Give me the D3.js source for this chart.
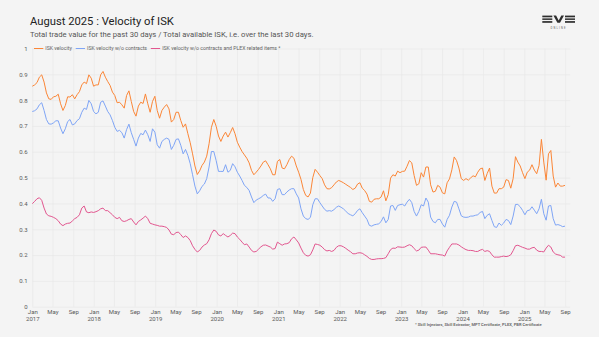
<!DOCTYPE html>
<html>
<head>
<meta charset="utf-8">
<script src="https://cdnjs.cloudflare.com/ajax/libs/d3/7.8.5/d3.min.js"></script>
<style>
html, body { margin: 0; padding: 0; background: #f4f4f4; }
svg { display: block; font-family: Roboto, "DejaVu Sans", sans-serif; }
</style>
</head>
<body>
<svg id="chart" width="599" height="337"></svg>
<script>
// one reading every 14 days, starting 2017-01-01
var startDate = "2017-01-01";
var stepDays = 14;

var iskVelocity = [
  0.854,0.859,0.868,0.889,0.898,0.870,0.828,0.805,0.803,0.813,
  0.815,0.823,0.786,0.760,0.779,0.813,0.812,0.821,0.805,0.821,
  0.833,0.859,0.870,0.864,0.898,0.885,0.854,0.859,0.859,0.898,
  0.911,0.889,0.872,0.857,0.831,0.818,0.790,0.792,0.782,0.769,
  0.818,0.836,0.795,0.756,0.738,0.777,0.792,0.787,0.824,0.786,
  0.753,0.795,0.815,0.760,0.730,0.760,0.773,0.783,0.766,0.715,
  0.725,0.753,0.753,0.721,0.695,0.708,0.670,0.635,0.592,0.545,
  0.512,0.526,0.547,0.560,0.583,0.631,0.695,0.725,0.699,0.661,
  0.640,0.661,0.676,0.657,0.674,0.694,0.670,0.637,0.618,0.601,
  0.588,0.575,0.557,0.528,0.511,0.521,0.532,0.545,0.560,0.565,
  0.550,0.534,0.511,0.511,0.563,0.570,0.537,0.534,0.550,0.570,
  0.583,0.575,0.545,0.521,0.493,0.454,0.431,0.425,0.440,0.500,
  0.532,0.521,0.508,0.496,0.472,0.457,0.456,0.461,0.472,0.483,
  0.489,0.485,0.480,0.474,0.468,0.462,0.454,0.459,0.475,0.480,
  0.459,0.450,0.436,0.408,0.405,0.416,0.418,0.418,0.425,0.449,
  0.410,0.434,0.498,0.511,0.506,0.525,0.519,0.524,0.525,0.544,
  0.566,0.557,0.508,0.470,0.476,0.519,0.502,0.541,0.541,0.472,
  0.444,0.447,0.470,0.463,0.441,0.437,0.480,0.495,0.530,0.580,
  0.566,0.537,0.496,0.489,0.496,0.490,0.499,0.507,0.503,0.521,
  0.534,0.537,0.489,0.516,0.537,0.467,0.440,0.440,0.457,0.457,
  0.463,0.492,0.489,0.459,0.496,0.581,0.560,0.545,0.519,0.496,
  0.521,0.529,0.550,0.529,0.515,0.547,0.648,0.560,0.490,0.592,
  0.605,0.506,0.463,0.479,0.467,0.467,0.470
];

var iskVelocityNoContracts = [
  0.756,0.759,0.766,0.782,0.790,0.760,0.725,0.708,0.707,0.712,
  0.720,0.720,0.692,0.670,0.689,0.717,0.725,0.704,0.708,0.721,
  0.728,0.753,0.769,0.764,0.799,0.786,0.756,0.747,0.753,0.792,
  0.797,0.777,0.756,0.743,0.721,0.695,0.679,0.683,0.674,0.653,
  0.686,0.707,0.674,0.648,0.622,0.653,0.671,0.666,0.684,0.666,
  0.640,0.689,0.676,0.627,0.614,0.640,0.648,0.653,0.648,0.609,
  0.625,0.648,0.650,0.625,0.592,0.609,0.586,0.554,0.511,0.467,
  0.437,0.449,0.466,0.475,0.496,0.541,0.601,0.601,0.566,0.524,
  0.524,0.524,0.550,0.521,0.528,0.554,0.542,0.521,0.506,0.489,
  0.470,0.462,0.450,0.425,0.403,0.413,0.418,0.423,0.431,0.436,
  0.421,0.421,0.408,0.418,0.454,0.457,0.434,0.434,0.444,0.452,
  0.457,0.457,0.437,0.421,0.379,0.351,0.341,0.338,0.346,0.395,
  0.418,0.418,0.403,0.390,0.377,0.370,0.372,0.370,0.376,0.385,
  0.390,0.385,0.379,0.370,0.361,0.356,0.352,0.360,0.373,0.379,
  0.364,0.351,0.338,0.315,0.312,0.317,0.319,0.321,0.330,0.348,
  0.325,0.338,0.390,0.392,0.373,0.392,0.395,0.397,0.390,0.405,
  0.416,0.403,0.369,0.351,0.369,0.395,0.390,0.421,0.405,0.347,
  0.330,0.325,0.338,0.338,0.320,0.308,0.338,0.354,0.386,0.408,
  0.405,0.379,0.352,0.347,0.346,0.347,0.351,0.351,0.354,0.356,
  0.365,0.369,0.341,0.354,0.360,0.334,0.310,0.307,0.324,0.315,
  0.324,0.338,0.334,0.318,0.351,0.396,0.396,0.387,0.373,0.356,
  0.372,0.374,0.387,0.374,0.360,0.379,0.416,0.360,0.335,0.390,
  0.392,0.341,0.316,0.318,0.315,0.310,0.312
];

var iskVelocityNoPlex = [
  0.399,0.408,0.418,0.422,0.412,0.382,0.359,0.352,0.350,0.346,
  0.341,0.333,0.320,0.314,0.320,0.323,0.324,0.332,0.341,0.346,
  0.356,0.382,0.390,0.367,0.364,0.367,0.365,0.368,0.372,0.379,
  0.382,0.372,0.372,0.364,0.356,0.346,0.341,0.346,0.333,0.330,
  0.333,0.338,0.341,0.328,0.317,0.330,0.336,0.343,0.351,0.341,
  0.323,0.320,0.317,0.315,0.312,0.312,0.310,0.307,0.297,0.281,
  0.279,0.287,0.289,0.279,0.268,0.274,0.268,0.256,0.236,0.222,
  0.212,0.218,0.231,0.239,0.244,0.259,0.283,0.297,0.292,0.278,
  0.274,0.283,0.276,0.270,0.276,0.285,0.283,0.270,0.261,0.250,
  0.240,0.243,0.231,0.218,0.212,0.214,0.223,0.232,0.238,0.239,
  0.235,0.231,0.223,0.225,0.250,0.244,0.238,0.243,0.244,0.248,
  0.263,0.270,0.259,0.247,0.227,0.209,0.199,0.196,0.201,0.220,
  0.243,0.241,0.238,0.231,0.221,0.216,0.218,0.214,0.218,0.230,
  0.236,0.236,0.232,0.226,0.219,0.213,0.205,0.205,0.208,0.209,
  0.207,0.201,0.195,0.187,0.183,0.183,0.185,0.186,0.186,0.187,
  0.190,0.205,0.221,0.227,0.226,0.232,0.231,0.230,0.231,0.236,
  0.240,0.236,0.225,0.216,0.219,0.230,0.231,0.231,0.219,0.205,
  0.205,0.205,0.203,0.201,0.200,0.196,0.216,0.230,0.243,0.243,
  0.243,0.239,0.232,0.226,0.221,0.218,0.218,0.217,0.214,0.214,
  0.219,0.222,0.214,0.217,0.214,0.201,0.192,0.192,0.192,0.194,
  0.196,0.194,0.196,0.201,0.217,0.236,0.238,0.234,0.230,0.227,
  0.223,0.223,0.228,0.230,0.219,0.214,0.214,0.212,0.227,0.238,
  0.231,0.212,0.204,0.201,0.199,0.192,0.192
];

var seriesNames = ["ISK velocity", "ISK velocity w/o contracts", "ISK velocity w/o contracts and PLEX related items *"];
var seriesColors = ["#fb8637", "#7fa5f6", "#e2568f"];
var yTicks = [0, 0.1, 0.2, 0.3, 0.4, 0.5, 0.6, 0.7, 0.8, 0.9, 1];
var xStart = "2017-01-01", xEnd = "2025-10-01";

var svg = d3.select("#chart");
var parse = d3.timeParse("%Y-%m-%d");

var plotLeft = 32.3, plotRight = 570.2, plotTop = 48.5, plotBottom = 306.7;

var x = d3.scaleTime()
    .domain([parse(xStart), parse(xEnd)])
    .range([plotLeft, plotRight]);

var y = d3.scaleLinear()
    .domain([0, 1])
    .range([plotBottom, plotTop]);

var dates = iskVelocity.map(function(d, i){
  return d3.timeDay.offset(parse(startDate), i*stepDays);
});

// grid + axes
var yAxis = d3.axisLeft(y)
    .tickValues(yTicks)
    .tickSize(-(plotRight-plotLeft))
    .tickPadding(4.8)
    .tickFormat(function(d){ return d === 0 || d === 1 ? String(d) : d3.format(".1f")(d); });

var gy = svg.append("g")
    .attr("transform", "translate(" + plotLeft + ",0)")
    .call(yAxis);
gy.select(".domain").remove();
gy.selectAll("line").attr("stroke", "#e8e8e8").attr("stroke-width", 0.7);
gy.selectAll("text").attr("fill", "#5a5a5a").attr("font-size", 6).attr("font-family", "Roboto");

var months = d3.timeMonth.every(4).range(parse(xStart), parse("2025-09-02"));

var xAxis = d3.axisBottom(x)
    .tickValues(months)
    .tickSize(-(plotBottom-plotTop))
    .tickPadding(2.9)
    .tickFormat(d3.timeFormat("%b"));

var gx = svg.append("g")
    .attr("transform", "translate(0," + plotBottom + ")")
    .call(xAxis);
gx.select(".domain").remove();
gx.selectAll("line").attr("stroke", "#e8e8e8").attr("stroke-width", 0.7);
gx.selectAll("text").attr("fill", "#5a5a5a").attr("font-size", 6).attr("font-family", "Roboto");
gx.selectAll(".tick").filter(function(d){ return d.getMonth() === 0; })
  .select("text")
  .append("tspan")
  .attr("x", 0)
  .attr("dy", "1.15em")
  .text(function(d){ return d.getFullYear(); });

// lines
var allSeries = [iskVelocity, iskVelocityNoContracts, iskVelocityNoPlex];
var line = d3.line()
    .x(function(d, i){ return x(dates[i]); })
    .y(function(d){ return y(d); });

svg.append("g").selectAll("path")
  .data(allSeries)
  .enter().append("path")
    .attr("d", line)
    .attr("fill", "none")
    .attr("stroke", function(d, i){ return seriesColors[i]; })
    .attr("stroke-width", 1)
    .attr("stroke-linejoin", "round");

// legend
var lx = 34;
var legend = svg.append("g").attr("transform", "translate(0," + y(1) + ")");
seriesNames.forEach(function(name, i){
  legend.append("line")
    .attr("x1", lx).attr("x2", lx + 9.3)
    .attr("y1", 0).attr("y2", 0)
    .attr("stroke", seriesColors[i])
    .attr("stroke-width", 1);
  var t = legend.append("text")
    .attr("x", lx + 11.3)
    .attr("y", 0)
    .attr("dy", "0.35em")
    .attr("font-size", 5.2)
    .attr("fill", "#666")
    .text(name);
  lx = lx + 11.3 + t.node().getComputedTextLength() + 3.8;
});

// titles
function fitWidth(t, w){
  var len = t.node().getComputedTextLength();
  t.attr("font-size", +t.attr("font-size") * w / len);
}

var title = svg.append("text")
    .attr("x", 30).attr("y", 25)
    .attr("font-size", 14)
    .attr("fill", "#222")
    .text("August 2025 : Velocity of ISK");
fitWidth(title, 144);

var subtitle = svg.append("text")
    .attr("x", 30).attr("y", 36.5)
    .attr("font-size", 8)
    .attr("fill", "#555")
    .text("Total trade value for the past 30 days / Total available ISK, i.e. over the last 30 days.");
fitWidth(subtitle, 284);

var foot = svg.append("text")
    .attr("x", 415).attr("y", 325.8)
    .attr("font-size", 4.3)
    .attr("font-weight", 600)
    .attr("fill", "#666")
    .text("* Skill Injectors, Skill Extractor, MPT Certificate, PLEX, PBR Certificate");
fitWidth(foot, 127);

// EVE logo
var logo = svg.append("g").attr("fill", "#2e2e2e");
[542.3, 565].forEach(function(ex){
  logo.append("rect").attr("x", ex).attr("y", 15.6).attr("width", 10).attr("height", 1.7);
  logo.append("rect").attr("x", ex).attr("y", 18.4).attr("width", 10).attr("height", 1.5);
  logo.append("rect").attr("x", ex).attr("y", 21.1).attr("width", 10).attr("height", 1.7);
});
logo.append("path")
  .attr("d", "M553.4,15.6 L556.1,15.6 L558.7,20.6 L561.3,15.6 L564,15.6 L560,22.8 L557.4,22.8 Z");
logo.append("text")
  .attr("x", 558.6).attr("y", 28.8)
  .attr("text-anchor", "middle")
  .attr("font-size", 2.6)
  .attr("letter-spacing", 1.2)
  .attr("fill", "#555")
  .text("ONLINE");
</script>
</body>
</html>
